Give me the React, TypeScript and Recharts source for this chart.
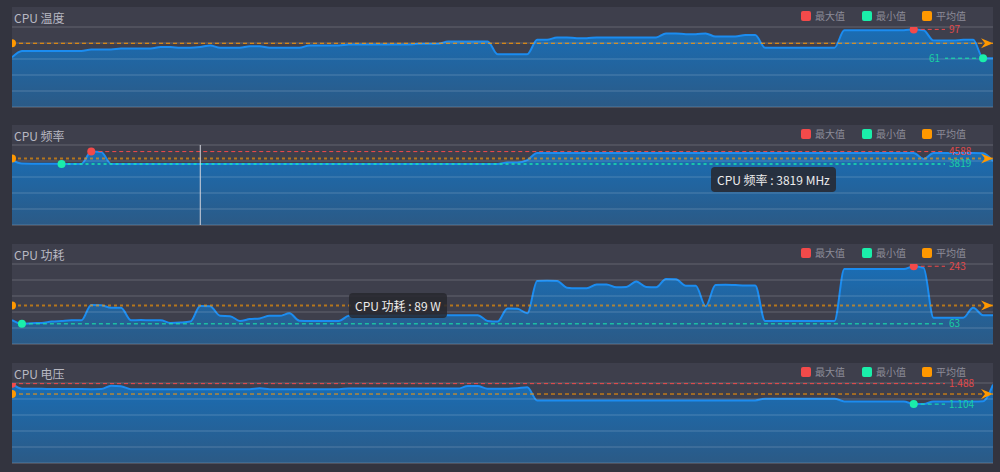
import React from 'react';
import { AreaChart, Area, XAxis, YAxis, ReferenceLine, ReferenceDot, Tooltip } from 'recharts';

const tempValues = [62,70,70,70,70,70,70,70,72,72,72,73,73,73,73,75,75,74,74,75,77,74,74,74,76,76,74,74,74,74,77,77,77,77,78,78,78,78,78,78,78,79,79,79,82,82,82,82,82,66,66,66,66,84,84,87,87,86,86,87,87,87,87,87,87,87,92,92,91,91,92,88,88,88,90,90,74,74,74,74,74,74,74,74,96,96,96,96,96,96,96,97,96,83,83,83,84,84,61,61];

const freqValues = [4050,3840,3830,3830,3830,3819,3819,3819,4588,4570,
  3819,3819,3819,3819,3819,3819,3819,3819,3819,3819,
  3819,3819,3819,3819,3819,3819,3819,3819,3819,3819,
  3819,3819,3819,3819,3819,3819,3819,3819,3819,3819,
  3819,3819,3819,3819,3819,3819,3819,3819,3819,3819,
  3900,3900,4060,4500,4500,4500,4500,4500,4500,4500,
  4500,4500,4500,4500,4500,4500,4500,4500,4500,4500,
  4500,4500,4500,4500,4500,4500,4500,4500,4500,4500,
  4500,4500,4500,4500,4500,4500,4500,4500,4500,4500,
  4500,4500,4120,4500,4500,4500,4500,4500,4480,4000];

const powerValues = [75,63,65,66,70,72,74,74,122,121,113,113,74,75,74,74,66,67,70,119,118,88,87,72,78,80,88,88,96,73,72,72,72,72,88,88,89,88,89,89,89,88,89,89,90,90,90,90,72,70,111,110,96,197,198,197,176,174,174,186,186,177,178,195,178,177,203,202,182,182,118,184,185,184,183,183,72,72,72,72,72,72,72,72,234,234,234,234,234,234,234,243,238,82,82,82,82,113,90,90];

const voltValues = [1.488,1.392,1.390,1.390,1.388,1.388,1.388,1.386,1.385,1.388,
  1.45,1.44,1.385,1.385,1.385,1.385,1.385,1.385,1.385,1.385,
  1.385,1.385,1.385,1.385,1.385,1.40,1.385,1.385,1.385,1.385,
  1.385,1.385,1.385,1.385,1.395,1.395,1.395,1.395,1.395,1.395,
  1.395,1.395,1.395,1.395,1.395,1.395,1.443,1.443,1.393,1.393,
  1.393,1.40,1.42,1.174,1.174,1.174,1.174,1.174,1.174,1.174,
  1.174,1.174,1.174,1.174,1.174,1.174,1.174,1.174,1.174,1.174,
  1.174,1.174,1.174,1.174,1.174,1.174,1.206,1.206,1.206,1.206,
  1.206,1.206,1.206,1.206,1.155,1.155,1.155,1.155,1.155,1.155,
  1.155,1.104,1.104,1.155,1.155,1.155,1.155,1.155,1.16,1.47];

const tempTicks = [0, 20, 40, 60, 80, 100];
const freqTicks = [0, 1000, 2000, 3000, 4000, 5000];
const powerTicks = [0, 50, 100, 150, 200, 250];
const voltTicks = [0, 0.3, 0.6, 0.9, 1.2, 1.5];

const titles = ['CPU 温度', 'CPU 频率', 'CPU 功耗', 'CPU 电压'];
const units = ['°C', 'MHz', 'W', 'V'];
const legendNames = ['最大值', '最小值', '平均值'];
const markEndIndex = 94.16;

const RED = '#f24a4a';
const GREEN = '#1aeeaa';
const ORANGE = '#ff9800';
const FONT = "'Noto Sans CJK SC', 'Noto Sans', sans-serif";

const W = 981;
const H = 101;

type PanelProps = {
  k: number;
  top: number;
  title: string;
  unit: string;
  values: number[];
  ticks: number[];
  digits: number;
  tooltipIndex?: number;
  tooltipPos?: { x: number; y: number };
  showCursor?: boolean;
  dimAvg?: boolean;
  dimMin?: boolean;
};

function Panel(p: PanelProps) {
  const data = p.values.map((v, i) => ({ i, v }));
  const max = Math.max(...p.values);
  const min = Math.min(...p.values);
  const maxIdx = p.values.indexOf(max);
  const minIdx = p.values.indexOf(min);
  const avg = p.values.reduce((a, b) => a + b, 0) / p.values.length;
  const fmt = (v: number) => v.toFixed(p.digits);

  const markLabel = (text: string, color: string, leftward: boolean) => (props: any) => {
    const vb = props.viewBox || {};
    const x = leftward ? vb.x - 5 : vb.x + vb.width + 4;
    return (
      <text x={x} y={vb.y} dy={3.5} fill={color} fontSize={10} fontFamily={FONT} textAnchor={leftward ? 'end' : 'start'}>
        {text}
      </text>
    );
  };

  const arrowLabel = (props: any) => {
    const vb = props.viewBox || {};
    const x2 = vb.x + vb.width;
    const y = vb.y;
    return <path d={`M${x2},${y} L${x2 - 12},${y - 5} L${x2 - 8},${y} L${x2 - 12},${y + 5} Z`} fill={ORANGE} />;
  };

  const tooltipContent = (props: any) => {
    const pl = props.payload && props.payload[0];
    if (!pl) return null;
    return (
      <div style={{ background: 'rgba(40,40,46,0.86)', borderRadius: 4, padding: '0 6px', height: 25, lineHeight: '25px', color: '#ececec', fontSize: 12, fontFamily: FONT, whiteSpace: 'nowrap' }}>
        {`${p.title} : ${pl.value} ${p.unit}`}
      </div>
    );
  };

  const legendColors = [RED, GREEN, ORANGE];
  const legendX = [789, 850, 910];

  return (
    <div style={{ position: 'absolute', left: 12, top: p.top, width: W, height: H, background: '#3e3f4c' }}>
      <div style={{ position: 'absolute', left: 2, top: 4, fontSize: 12, lineHeight: '14px', color: '#b8b8c2', fontFamily: FONT, whiteSpace: 'nowrap' }}>{p.title}</div>
      {legendNames.map((n, j) => (
        <div key={n} style={{ position: 'absolute', left: legendX[j], top: 4, height: 10, display: 'flex', alignItems: 'center' }}>
          <div style={{ width: 10, height: 10, borderRadius: 2, background: legendColors[j] }} />
          <div style={{ marginLeft: 4, fontSize: 10, lineHeight: '10px', color: '#8c8c98', fontFamily: FONT, whiteSpace: 'nowrap' }}>{n}</div>
        </div>
      ))}
      <div style={{ position: 'absolute', left: 0, top: 0 }}>
        <AreaChart width={W} height={H} data={data} margin={{ top: 20, right: 0, bottom: 1, left: 0 }}>
          <defs>
            <linearGradient id={`areaGrad${p.k}`} x1="0" y1="0" x2="0" y2="1">
              <stop offset="0" stopColor="#1a6db4" />
              <stop offset="1" stopColor="#2b5a86" />
            </linearGradient>
          </defs>
          <XAxis dataKey="i" type="number" domain={[0, p.values.length - 1]} hide />
          <YAxis hide domain={[p.ticks[0], p.ticks[p.ticks.length - 1]]} ticks={p.ticks} />
          <Area type="monotone" dataKey="v" stroke="#1b8cf0" strokeWidth={2} fill={`url(#areaGrad${p.k})`} fillOpacity={1} dot={false} activeDot={false} isAnimationActive={false} />
          {p.ticks.map((t) => (
            <ReferenceLine key={`g${t}`} y={t} stroke="rgba(255,255,255,0.2)" strokeWidth={1} />
          ))}
          <ReferenceLine y={avg} stroke={ORANGE} strokeOpacity={p.dimAvg ? 0.62 : 1} strokeWidth={p.dimAvg ? 2 : 1} strokeDasharray={p.dimAvg ? '3 3' : '4 3'} label={arrowLabel} />
          <ReferenceDot x={0} y={avg} r={4} fill={ORANGE} stroke="none" ifOverflow="hidden" />
          <ReferenceLine segment={[{ x: maxIdx, y: max }, { x: markEndIndex, y: max }]} stroke={RED} strokeDasharray="4 3" label={markLabel(fmt(max), '#e04a4a', maxIdx > markEndIndex)} />
          <ReferenceLine segment={[{ x: minIdx, y: min }, { x: markEndIndex, y: min }]} stroke={GREEN} strokeOpacity={p.dimMin ? 0.7 : 1} strokeWidth={p.dimMin ? 2 : 1} strokeDasharray={p.dimMin ? '3 3' : '4 3'} label={markLabel(fmt(min), '#19d0a2', minIdx > markEndIndex)} />
          <ReferenceDot x={maxIdx} y={max} r={4} fill={RED} stroke="none" ifOverflow="hidden" />
          <ReferenceDot x={minIdx} y={min} r={4} fill={GREEN} stroke="none" ifOverflow="hidden" />
          {p.tooltipIndex !== undefined && (
            <Tooltip
              active={true}
              defaultIndex={p.tooltipIndex}
              position={p.tooltipPos}
              content={tooltipContent}
              cursor={p.showCursor ? { stroke: '#d4d4dc', strokeWidth: 1 } : false}
              isAnimationActive={false}
            />
          )}
        </AreaChart>
      </div>
    </div>
  );
}

export default function App() {
  return (
    <div style={{ position: 'absolute', left: 0, top: 0, width: 1000, height: 472, background: '#33343f', overflow: 'hidden', fontFamily: FONT }}>
      <Panel k={0} top={7} title={titles[0]} unit={units[0]} values={tempValues} ticks={tempTicks} digits={0} />
      <Panel k={1} top={125} title={titles[1]} unit={units[1]} values={freqValues} ticks={freqTicks} digits={0} tooltipIndex={19} tooltipPos={{ x: 699, y: 42 }} showCursor={true} dimAvg={true} dimMin={true} />
      <Panel k={2} top={244} title={titles[2]} unit={units[2]} values={powerValues} ticks={powerTicks} digits={0} tooltipIndex={40} tooltipPos={{ x: 337, y: 49 }} showCursor={false} dimAvg={true} />
      <Panel k={3} top={363} title={titles[3]} unit={units[3]} values={voltValues} ticks={voltTicks} digits={3} />
    </div>
  );
}
